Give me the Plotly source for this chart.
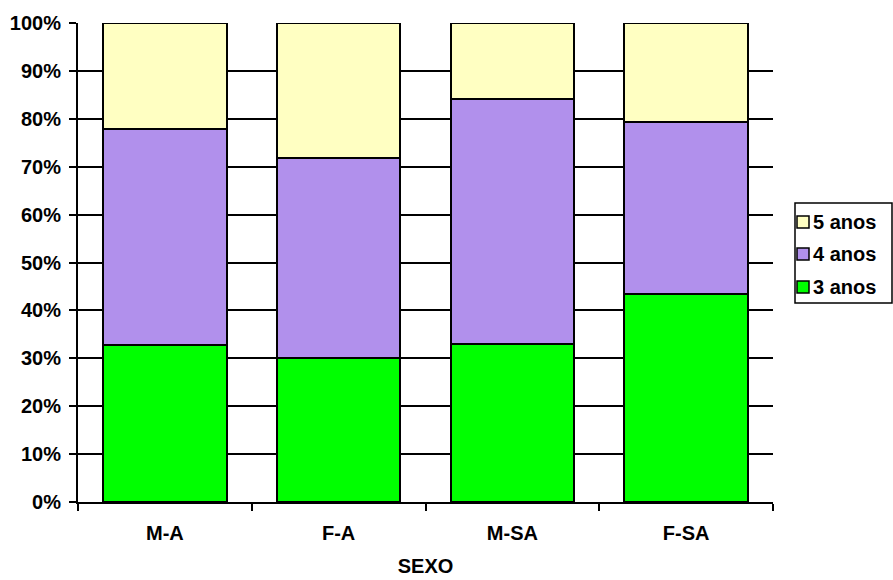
import plotly.graph_objects as go

categories = ["M-A", "F-A", "M-SA", "F-SA"]
anos3 = [0.328, 0.300, 0.330, 0.435]
anos4 = [0.450, 0.419, 0.512, 0.359]
anos5 = [0.222, 0.281, 0.158, 0.206]

series_names = ["3 anos", "4 anos", "5 anos"]
series_colors = ["#00FF00", "#B190EC", "#FFFFC2"]
series_values = [anos3, anos4, anos5]

font_family = "Liberation Sans, Arial, sans-serif"
label_font = dict(family=font_family, size=20, color="black", weight="bold")

W, H = 893, 580
M_L, M_R, M_T, M_B = 78, 120, 23, 78
plot_w = W - M_L - M_R
plot_h = H - M_T - M_B


def px_x(px):
    return (px - M_L) / plot_w


def px_y(py):
    return (H - M_B - py) / plot_h


fig = go.Figure()
for name, vals, color in zip(series_names, series_values, series_colors):
    fig.add_trace(go.Bar(
        x=categories, y=vals, name=name, showlegend=False,
        marker=dict(color=color, line=dict(color="black", width=2)),
    ))

# Boxed legend on the right, entries listed top-down from the last series
shapes = [dict(
    type="rect", xref="paper", yref="paper",
    x0=px_x(795), x1=px_x(892), y0=px_y(303), y1=px_y(203),
    line=dict(color="black", width=1.5), fillcolor="white", layer="above",
)]
annotations = []
row_y = [222, 254, 287]
for (name, color), py in zip(list(zip(series_names, series_colors))[::-1], row_y):
    shapes.append(dict(
        type="rect", xref="paper", yref="paper",
        xsizemode="pixel", ysizemode="pixel",
        xanchor=px_x(797), yanchor=px_y(py),
        x0=0, x1=12, y0=-6, y1=6,
        line=dict(color="black", width=1.5), fillcolor=color, layer="above",
    ))
    annotations.append(dict(
        xref="paper", yref="paper", x=px_x(811), y=px_y(py),
        xanchor="left", yanchor="middle", showarrow=False,
        text=name, font=label_font,
    ))

fig.update_layout(
    barmode="stack",
    bargap=0.29,
    width=W, height=H,
    margin=dict(l=M_L, r=M_R, t=M_T, b=M_B, autoexpand=False),
    paper_bgcolor="white",
    plot_bgcolor="white",
    font=label_font,
    shapes=shapes,
    annotations=annotations,
)

fig.update_yaxes(
    range=[0, 1], dtick=0.1, tickformat=".0%",
    showgrid=True, gridcolor="black", gridwidth=1.5,
    showline=True, linecolor="black", linewidth=2,
    ticks="outside", ticklen=7, tickwidth=2, tickcolor="black",
    tickfont=label_font, ticklabelstandoff=4,
    zeroline=False,
)
fig.update_xaxes(
    showline=True, linecolor="black", linewidth=2,
    ticks="outside", tickson="boundaries", ticklen=7, tickwidth=2, tickcolor="black",
    tickfont=label_font, ticklabelstandoff=12,
    title=dict(text="SEXO", font=label_font, standoff=16),
)

fig.write_html("out.html")
